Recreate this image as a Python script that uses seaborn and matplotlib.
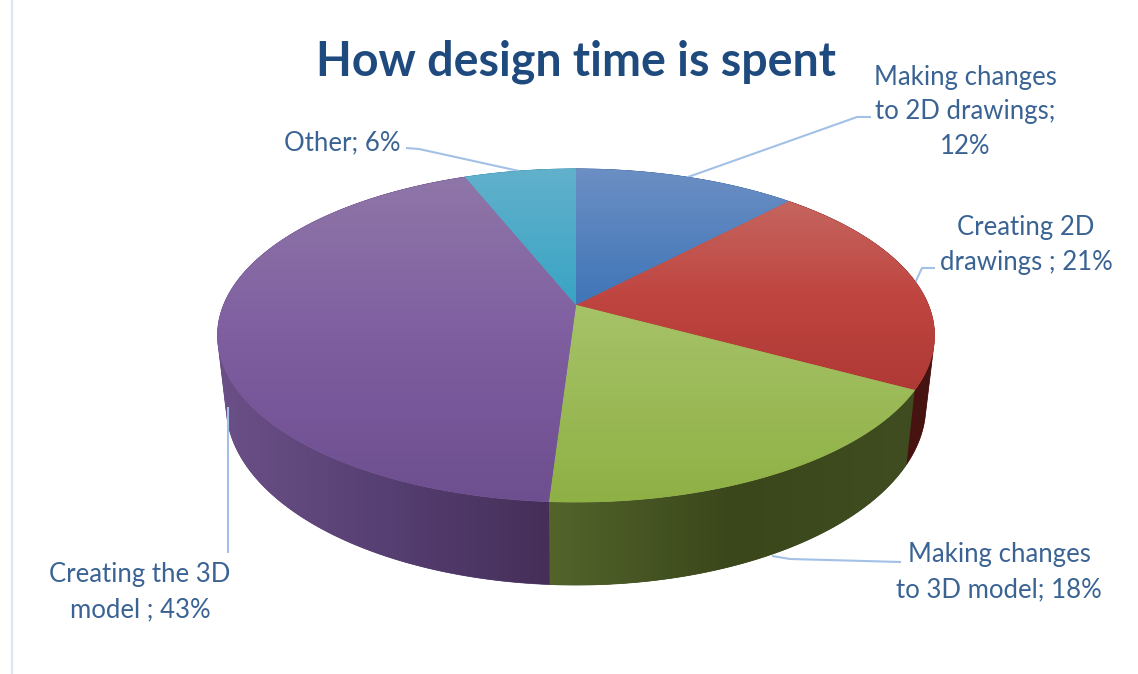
import numpy as np
import matplotlib
matplotlib.use("Agg")
import matplotlib.pyplot as plt
from matplotlib.patches import Polygon
import seaborn as sns

# Chart content
title = "How design time is spent"
categories = ["Making changes\nto 2D drawings;\n", "Creating 2D\ndrawings ; ", "Making changes\nto 3D model; ",
              "Creating the 3D\nmodel ; ", "Other; "]
shares = [12, 21, 18, 43, 6]

# Top-face gradients, light to dark going down the figure
top_colors = [["#6c8fc4", "#3f75b7"], ["#c5655f", "#bf4540", "#af3935"], ["#a6c368", "#8fb045"],
              ["#8f76a8", "#7f5ea0", "#6d4e8f"], ["#62b1cc", "#39a4c4"]]
# Side-wall gradients, going left to right
wall_colors = [["#2f4f7a", "#2f4f7a"], ["#531816", "#451311"], ["#53642b", "#3a471b", "#3f4d20"],
               ["#6b5087", "#563f72", "#452f58"], ["#256a80", "#256a80"]]
text_color = "#3a6394"
title_color = "#1f4a7d"
leader_color = "#a3c0e6"

# Leader lines as (x, y) anchors on the canvas
leaders = [[(688, 177), (857, 117), (871, 117)], [(915, 283), (922, 268), (935, 268)],
           [(772, 556), (790, 559), (901, 562)], [(228, 407), (228, 553)],
           [(519, 171), (419, 149), (406, 148)]]
label_pos = [(965, 112), (1026, 245), (999, 572), (140, 592), (342, 143)]

# Perspective model of the disc
CX, CY = 576, 305
K, RX, RY = 0.183, 352.4, 161.0
HEIGHT, SHRINK = 67.8, 0.976

sns.set_theme(style="white")
plt.rcParams["font.family"] = ["Lato", "DejaVu Sans"]


def project(theta):
    """Rim point of the top face for clockwise-from-north angles."""
    u, v = np.sin(theta), np.cos(theta)
    w = 1 + K * v
    return CX + RX * u / w, CY - RY * v / w, w


def lower_rim(theta):
    x, y, w = project(theta)
    return CX + SHRINK * (x - CX), y + HEIGHT / w


def convex_hull(pts):
    """Monotone-chain hull, used as the silhouette of a wall segment."""
    ordered = sorted(map(tuple, pts))

    def half(seq):
        chain = []
        for p in seq:
            while len(chain) >= 2:
                (ax_, ay_), (bx_, by_) = chain[-2], chain[-1]
                if (bx_ - ax_) * (p[1] - ay_) - (by_ - ay_) * (p[0] - ax_) > 0:
                    break
                chain.pop()
            chain.append(p)
        return chain[:-1]

    return np.array(half(ordered) + half(ordered[::-1]))


def gradient_fill(ax, pts, colors, vertical, zorder):
    cmap = sns.blend_palette(colors, n_colors=128, as_cmap=True)
    pts = np.asarray(pts)
    x0, y0 = pts.min(axis=0)
    x1, y1 = pts.max(axis=0)
    ramp = np.linspace(0, 1, 256)
    ramp = ramp.reshape(-1, 1) if vertical else ramp.reshape(1, -1)
    # Solid underlay closes the hairline seams between neighbouring clipped images
    ax.fill(pts[:, 0], pts[:, 1], color=cmap(0.5), lw=0.5, zorder=zorder - 0.1)
    im = ax.imshow(ramp, extent=(x0, x1, y1, y0), origin="upper", cmap=cmap, aspect="auto",
                   interpolation="bilinear", zorder=zorder)
    clip = Polygon(pts, closed=True, transform=ax.transData, facecolor="none", edgecolor="none")
    ax.add_patch(clip)
    im.set_clip_path(clip)


fig = plt.figure(figsize=(11.38, 6.74), dpi=100, facecolor="white")
ax = fig.add_axes([0, 0, 1, 1])

edges = np.radians(np.cumsum([0] + shares) * 3.6)
for i, (a, b) in enumerate(zip(edges[:-1], edges[1:])):
    arc = np.linspace(a, b, 200)
    x, y, _ = project(arc)
    xb, yb = lower_rim(arc)
    wall = convex_hull(np.vstack([np.column_stack([x, y]), np.column_stack([xb, yb])]))
    gradient_fill(ax, wall, wall_colors[i], False, 2 + 0.01 * i)

for i, (a, b) in enumerate(zip(edges[:-1], edges[1:])):
    arc = np.linspace(a, b, 200)
    x, y, _ = project(arc)
    face = np.vstack([[CX, CY], np.column_stack([x, y])])
    gradient_fill(ax, face, top_colors[i], True, 3 + 0.01 * i)

# Left rule of the page
ax.plot([12, 12], [0, 674], color="#dde7f7", lw=1.6, zorder=1)

for line in leaders:
    xs, ys = zip(*line)
    ax.plot(xs, ys, color=leader_color, lw=1.5, zorder=2.6, solid_capstyle="butt")

for cat, val, (lx, ly) in zip(categories, shares, label_pos):
    ax.text(lx, ly, f"{cat}{val}%", ha="center", va="center", color=text_color, fontsize=18.5,
            linespacing=1.49, zorder=4)

ax.text(576, 62, title, ha="center", va="center", color=title_color, fontsize=33.5,
        fontweight="bold", zorder=4)

ax.set_xlim(0, 1138)
ax.set_ylim(674, 0)
ax.axis("off")
fig.savefig("out.png", dpi=100, facecolor="white")
